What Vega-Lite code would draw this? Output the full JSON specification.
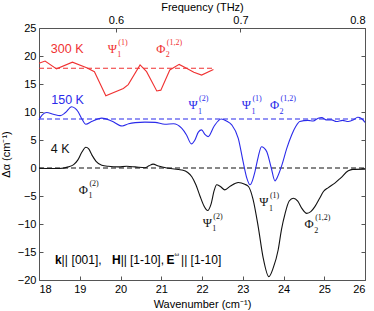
{
  "$schema": "https://vega.github.io/schema/vega-lite/v6.json",
  "width": 326,
  "height": 252,
  "autosize": {"type": "none"},
  "padding": {"left": 39, "top": 28, "right": 9, "bottom": 31},
  "config": {
    "font": "Liberation Sans",
    "view": {"stroke": "#555", "strokeWidth": 1},
    "axis": {"grid": false, "domain": false, "labelFont": "Liberation Sans", "labelFontSize": 11, "labelColor": "#000", "titleFont": "Liberation Sans", "titleFontSize": 11, "titleFontWeight": "normal", "titleColor": "#000", "tickColor": "#555", "tickSize": -4, "labelPadding": 7}
  },
  "datasets": {
    "curves": [
      {"series": "300 K", "x": 18.0, "y": 18.7}, {"series": "300 K", "x": 18.15, "y": 19.1}, {"series": "300 K", "x": 18.43, "y": 17.7}, {"series": "300 K", "x": 18.82, "y": 18.9}, {"series": "300 K", "x": 19.17, "y": 17.9}, {"series": "300 K", "x": 19.36, "y": 17.2}, {"series": "300 K", "x": 19.64, "y": 12.9}, {"series": "300 K", "x": 20.07, "y": 14.2}, {"series": "300 K", "x": 20.19, "y": 14.9}, {"series": "300 K", "x": 20.48, "y": 18.4}, {"series": "300 K", "x": 20.64, "y": 17.2}, {"series": "300 K", "x": 20.89, "y": 13.75}, {"series": "300 K", "x": 20.99, "y": 13.9}, {"series": "300 K", "x": 21.21, "y": 17.5}, {"series": "300 K", "x": 21.44, "y": 18.5}, {"series": "300 K", "x": 21.62, "y": 17.8}, {"series": "300 K", "x": 21.8, "y": 17.1}, {"series": "300 K", "x": 21.99, "y": 16.6}, {"series": "300 K", "x": 22.28, "y": 17.6},
      {"series": "150 K", "x": 18.0, "y": 8.6}, {"series": "150 K", "x": 18.08, "y": 9.5}, {"series": "150 K", "x": 18.19, "y": 9.9}, {"series": "150 K", "x": 18.35, "y": 9.6}, {"series": "150 K", "x": 18.52, "y": 9.35}, {"series": "150 K", "x": 18.65, "y": 9.9}, {"series": "150 K", "x": 18.8, "y": 10.95}, {"series": "150 K", "x": 18.88, "y": 10.7}, {"series": "150 K", "x": 18.96, "y": 10.05}, {"series": "150 K", "x": 19.05, "y": 8.8}, {"series": "150 K", "x": 19.15, "y": 7.8}, {"series": "150 K", "x": 19.29, "y": 8.3}, {"series": "150 K", "x": 19.54, "y": 8.9}, {"series": "150 K", "x": 19.78, "y": 8.4}, {"series": "150 K", "x": 20.04, "y": 7.5}, {"series": "150 K", "x": 20.2, "y": 7.9}, {"series": "150 K", "x": 20.36, "y": 8.1}, {"series": "150 K", "x": 20.6, "y": 8.2}, {"series": "150 K", "x": 20.85, "y": 8.15}, {"series": "150 K", "x": 21.09, "y": 7.8}, {"series": "150 K", "x": 21.3, "y": 7.9}, {"series": "150 K", "x": 21.5, "y": 7.1}, {"series": "150 K", "x": 21.62, "y": 5.9}, {"series": "150 K", "x": 21.74, "y": 4.3}, {"series": "150 K", "x": 21.82, "y": 4.9}, {"series": "150 K", "x": 21.91, "y": 6.4}, {"series": "150 K", "x": 21.99, "y": 6.8}, {"series": "150 K", "x": 22.07, "y": 6.0}, {"series": "150 K", "x": 22.15, "y": 5.6}, {"series": "150 K", "x": 22.3, "y": 7.5}, {"series": "150 K", "x": 22.47, "y": 8.75}, {"series": "150 K", "x": 22.6, "y": 8.4}, {"series": "150 K", "x": 22.73, "y": 7.7}, {"series": "150 K", "x": 22.89, "y": 5.3}, {"series": "150 K", "x": 23.01, "y": 1.1}, {"series": "150 K", "x": 23.1, "y": -1.8}, {"series": "150 K", "x": 23.18, "y": -3.0}, {"series": "150 K", "x": 23.24, "y": -2.2}, {"series": "150 K", "x": 23.3, "y": -0.65}, {"series": "150 K", "x": 23.38, "y": 2.0}, {"series": "150 K", "x": 23.46, "y": 3.8}, {"series": "150 K", "x": 23.52, "y": 3.6}, {"series": "150 K", "x": 23.59, "y": 2.9}, {"series": "150 K", "x": 23.7, "y": 0.0}, {"series": "150 K", "x": 23.79, "y": -2.3}, {"series": "150 K", "x": 23.87, "y": -1.3}, {"series": "150 K", "x": 23.96, "y": 0.5}, {"series": "150 K", "x": 24.08, "y": 3.5}, {"series": "150 K", "x": 24.2, "y": 5.9}, {"series": "150 K", "x": 24.3, "y": 7.4}, {"series": "150 K", "x": 24.4, "y": 8.3}, {"series": "150 K", "x": 24.6, "y": 8.5}, {"series": "150 K", "x": 24.73, "y": 8.4}, {"series": "150 K", "x": 24.85, "y": 8.9}, {"series": "150 K", "x": 24.94, "y": 9.0}, {"series": "150 K", "x": 25.05, "y": 8.6}, {"series": "150 K", "x": 25.18, "y": 8.6}, {"series": "150 K", "x": 25.3, "y": 8.3}, {"series": "150 K", "x": 25.45, "y": 8.5}, {"series": "150 K", "x": 25.59, "y": 8.3}, {"series": "150 K", "x": 25.72, "y": 8.6}, {"series": "150 K", "x": 25.82, "y": 9.05}, {"series": "150 K", "x": 25.92, "y": 8.8}, {"series": "150 K", "x": 26.0, "y": 8.15},
      {"series": "4 K", "x": 18.0, "y": -0.05}, {"series": "4 K", "x": 18.3, "y": -0.1}, {"series": "4 K", "x": 18.5, "y": -0.1}, {"series": "4 K", "x": 18.72, "y": 0.2}, {"series": "4 K", "x": 18.85, "y": 0.6}, {"series": "4 K", "x": 18.95, "y": 1.4}, {"series": "4 K", "x": 19.05, "y": 2.8}, {"series": "4 K", "x": 19.15, "y": 3.7}, {"series": "4 K", "x": 19.22, "y": 3.4}, {"series": "4 K", "x": 19.3, "y": 2.3}, {"series": "4 K", "x": 19.4, "y": 1.2}, {"series": "4 K", "x": 19.54, "y": 0.5}, {"series": "4 K", "x": 19.7, "y": 0.3}, {"series": "4 K", "x": 19.95, "y": 0.2}, {"series": "4 K", "x": 20.15, "y": 0.3}, {"series": "4 K", "x": 20.36, "y": 0.2}, {"series": "4 K", "x": 20.6, "y": 0.05}, {"series": "4 K", "x": 20.7, "y": 0.4}, {"series": "4 K", "x": 20.8, "y": 0.7}, {"series": "4 K", "x": 20.93, "y": 0.35}, {"series": "4 K", "x": 21.17, "y": -0.05}, {"series": "4 K", "x": 21.5, "y": -0.35}, {"series": "4 K", "x": 21.65, "y": -0.8}, {"series": "4 K", "x": 21.75, "y": -1.55}, {"series": "4 K", "x": 21.85, "y": -3.0}, {"series": "4 K", "x": 21.95, "y": -5.0}, {"series": "4 K", "x": 22.05, "y": -6.8}, {"series": "4 K", "x": 22.14, "y": -7.6}, {"series": "4 K", "x": 22.22, "y": -6.5}, {"series": "4 K", "x": 22.3, "y": -4.0}, {"series": "4 K", "x": 22.36, "y": -3.0}, {"series": "4 K", "x": 22.45, "y": -3.3}, {"series": "4 K", "x": 22.56, "y": -3.9}, {"series": "4 K", "x": 22.7, "y": -3.2}, {"series": "4 K", "x": 22.89, "y": -2.6}, {"series": "4 K", "x": 23.05, "y": -2.9}, {"series": "4 K", "x": 23.14, "y": -3.3}, {"series": "4 K", "x": 23.25, "y": -5.5}, {"series": "4 K", "x": 23.38, "y": -10.5}, {"series": "4 K", "x": 23.5, "y": -16.0}, {"series": "4 K", "x": 23.64, "y": -19.4}, {"series": "4 K", "x": 23.75, "y": -17.8}, {"series": "4 K", "x": 23.87, "y": -14.6}, {"series": "4 K", "x": 23.95, "y": -11.0}, {"series": "4 K", "x": 24.04, "y": -8.1}, {"series": "4 K", "x": 24.14, "y": -5.9}, {"series": "4 K", "x": 24.24, "y": -5.4}, {"series": "4 K", "x": 24.35, "y": -5.9}, {"series": "4 K", "x": 24.45, "y": -7.2}, {"series": "4 K", "x": 24.57, "y": -8.1}, {"series": "4 K", "x": 24.67, "y": -7.8}, {"series": "4 K", "x": 24.77, "y": -6.9}, {"series": "4 K", "x": 24.88, "y": -5.5}, {"series": "4 K", "x": 24.98, "y": -4.2}, {"series": "4 K", "x": 25.1, "y": -3.5}, {"series": "4 K", "x": 25.26, "y": -2.7}, {"series": "4 K", "x": 25.4, "y": -1.8}, {"series": "4 K", "x": 25.59, "y": -0.5}, {"series": "4 K", "x": 25.7, "y": -0.25}, {"series": "4 K", "x": 26.0, "y": -0.2}
    ],
    "baselines": [
      {"series": "300 K", "x1": 18.0, "x2": 22.28, "y": 17.8},
      {"series": "150 K", "x1": 18.0, "x2": 26.0, "y": 8.75},
      {"series": "4 K", "x1": 18.0, "x2": 26.0, "y": 0}
    ],
    "names": [
      {"series": "300 K", "x": 18.29, "y": 21.25, "text": "300 K"},
      {"series": "150 K", "x": 18.3, "y": 12.14, "text": "150 K"},
      {"series": "4 K", "x": 18.29, "y": 3.48, "text": "4 K"}
    ],
    "labels": [
      {"series": "300 K", "x": 19.8, "y": 21.3, "base": "Ψ", "sub": "1", "sup": "(1)"},
      {"series": "300 K", "x": 20.99, "y": 21.3, "base": "Φ", "sub": "2", "sup": "(1,2)"},
      {"series": "150 K", "x": 21.78, "y": 11.2, "base": "Ψ", "sub": "1", "sup": "(2)"},
      {"series": "150 K", "x": 23.09, "y": 11.2, "base": "Ψ", "sub": "1", "sup": "(1)"},
      {"series": "150 K", "x": 23.78, "y": 11.2, "base": "Φ", "sub": "2", "sup": "(1,2)"},
      {"series": "4 K", "x": 19.09, "y": -3.9, "base": "Φ", "sub": "1", "sup": "(2)"},
      {"series": "4 K", "x": 22.13, "y": -9.8, "base": "Ψ", "sub": "1", "sup": "(2)"},
      {"series": "4 K", "x": 23.52, "y": -6.1, "base": "Ψ", "sub": "1", "sup": "(1)"},
      {"series": "4 K", "x": 24.63, "y": -10.0, "base": "Φ", "sub": "2", "sup": "(1,2)"}
    ],
    "caption": [
      {"x": 18.393, "y": -16.43, "text": "k", "bold": true},
      {"x": 18.555, "y": -16.43, "text": "||", "bold": false},
      {"x": 18.8, "y": -16.43, "text": "[001],", "bold": false},
      {"x": 19.79, "y": -16.43, "text": "H", "bold": true},
      {"x": 20.005, "y": -16.43, "text": "||", "bold": false},
      {"x": 20.233, "y": -16.43, "text": "[1-10],", "bold": false},
      {"x": 21.13, "y": -16.43, "text": "E", "bold": true},
      {"x": 21.485, "y": -16.43, "text": "||", "bold": false},
      {"x": 21.72, "y": -16.43, "text": "[1-10]", "bold": false}
    ],
    "omega": [
      {"x": 21.325, "y": -15.4, "text": "ω"}
    ],
    "freq": [{"f": 0.6}, {"f": 0.7}, {"f": 0.8}]
  },
  "resolve": {"scale": {"x": "independent"}, "axis": {"x": "independent", "y": "independent"}},
  "layer": [
    {
      "data": {"name": "baselines"},
      "mark": {"type": "rule", "strokeDash": [5, 3], "strokeWidth": 1.1},
      "encoding": {
        "x": {"field": "x1", "type": "quantitative", "scale": {"domain": [18, 26]}, "axis": null},
        "x2": {"field": "x2"},
        "y": {"field": "y", "type": "quantitative", "scale": {"domain": [-20, 25], "nice": false, "zero": false}, "axis": {"orient": "right", "values": [-20, -15, -10, -5, 0, 5, 10, 15, 20, 25], "labels": false, "title": null}},
        "color": {"field": "series", "type": "nominal", "scale": {"domain": ["300 K", "150 K", "4 K"], "range": ["#f03232", "#2b2bea", "#111111"]}, "legend": null}
      }
    },
    {
      "data": {"name": "curves"},
      "mark": {"type": "line", "strokeWidth": 1.1, "interpolate": "monotone"},
      "transform": [{"filter": "datum.series != '300 K'"}],
      "encoding": {
        "x": {"field": "x", "type": "quantitative", "scale": {"domain": [18, 26]}, "axis": {"orient": "bottom", "values": [18, 19, 20, 21, 22, 23, 24, 25, 26], "title": "Wavenumber (cm⁻¹)", "titlePadding": 4}},
        "y": {"field": "y", "type": "quantitative", "scale": {"domain": [-20, 25], "nice": false, "zero": false}, "axis": {"orient": "left", "values": [-20, -15, -10, -5, 0, 5, 10, 15, 20, 25], "title": "Δα (cm⁻¹)", "titlePadding": 6}},
        "color": {"field": "series", "type": "nominal", "legend": null},
        "detail": {"field": "series"}
      }
    },
    {
      "data": {"name": "curves"},
      "mark": {"type": "line", "strokeWidth": 1.1, "interpolate": "linear"},
      "transform": [{"filter": "datum.series == '300 K'"}],
      "encoding": {
        "x": {"field": "x", "type": "quantitative", "scale": {"domain": [18, 26]}, "axis": null},
        "y": {"field": "y", "type": "quantitative", "scale": {"domain": [-20, 25], "nice": false, "zero": false}, "axis": null},
        "color": {"field": "series", "type": "nominal", "legend": null}
      }
    },
    {
      "data": {"name": "names"},
      "mark": {"type": "text", "align": "left", "baseline": "middle", "fontSize": 12.5, "font": "Liberation Sans"},
      "encoding": {
        "x": {"field": "x", "type": "quantitative", "scale": {"domain": [18, 26]}, "axis": null},
        "y": {"field": "y", "type": "quantitative", "scale": {"domain": [-20, 25], "nice": false, "zero": false}, "axis": null},
        "text": {"field": "text"},
        "color": {"field": "series", "type": "nominal", "legend": null}
      }
    },
    {
      "data": {"name": "labels"},
      "mark": {"type": "text", "align": "center", "baseline": "middle", "fontSize": 12.5, "font": "Liberation Serif"},
      "encoding": {
        "x": {"field": "x", "type": "quantitative", "scale": {"domain": [18, 26]}, "axis": null},
        "y": {"field": "y", "type": "quantitative", "scale": {"domain": [-20, 25], "nice": false, "zero": false}, "axis": null},
        "text": {"field": "base"},
        "color": {"field": "series", "type": "nominal", "legend": null}
      }
    },
    {
      "data": {"name": "labels"},
      "mark": {"type": "text", "align": "left", "baseline": "middle", "fontSize": 8, "font": "Liberation Serif", "dx": 6, "dy": -6},
      "encoding": {
        "x": {"field": "x", "type": "quantitative", "scale": {"domain": [18, 26]}, "axis": null},
        "y": {"field": "y", "type": "quantitative", "scale": {"domain": [-20, 25], "nice": false, "zero": false}, "axis": null},
        "text": {"field": "sup"},
        "color": {"field": "series", "type": "nominal", "legend": null}
      }
    },
    {
      "data": {"name": "labels"},
      "mark": {"type": "text", "align": "left", "baseline": "middle", "fontSize": 8, "font": "Liberation Serif", "dx": 5, "dy": 6.5},
      "encoding": {
        "x": {"field": "x", "type": "quantitative", "scale": {"domain": [18, 26]}, "axis": null},
        "y": {"field": "y", "type": "quantitative", "scale": {"domain": [-20, 25], "nice": false, "zero": false}, "axis": null},
        "text": {"field": "sub"},
        "color": {"field": "series", "type": "nominal", "legend": null}
      }
    },
    {
      "data": {"name": "caption"},
      "transform": [{"filter": "datum.bold"}],
      "mark": {"type": "text", "align": "left", "baseline": "middle", "fontSize": 12, "fontWeight": "bold", "color": "#000"},
      "encoding": {
        "x": {"field": "x", "type": "quantitative", "scale": {"domain": [18, 26]}, "axis": null},
        "y": {"field": "y", "type": "quantitative", "scale": {"domain": [-20, 25], "nice": false, "zero": false}, "axis": null},
        "text": {"field": "text"}
      }
    },
    {
      "data": {"name": "caption"},
      "transform": [{"filter": "!datum.bold"}],
      "mark": {"type": "text", "align": "left", "baseline": "middle", "fontSize": 12, "color": "#000"},
      "encoding": {
        "x": {"field": "x", "type": "quantitative", "scale": {"domain": [18, 26]}, "axis": null},
        "y": {"field": "y", "type": "quantitative", "scale": {"domain": [-20, 25], "nice": false, "zero": false}, "axis": null},
        "text": {"field": "text"}
      }
    },
    {
      "data": {"name": "omega"},
      "mark": {"type": "text", "align": "left", "baseline": "middle", "fontSize": 7, "font": "Liberation Serif", "color": "#000"},
      "encoding": {
        "x": {"field": "x", "type": "quantitative", "scale": {"domain": [18, 26]}, "axis": null},
        "y": {"field": "y", "type": "quantitative", "scale": {"domain": [-20, 25], "nice": false, "zero": false}, "axis": null},
        "text": {"field": "text"}
      }
    },
    {
      "data": {"name": "freq"},
      "mark": {"type": "point", "opacity": 0},
      "encoding": {
        "x": {"field": "f", "type": "quantitative", "scale": {"domain": [0.5382, 0.8], "nice": false, "zero": false}, "axis": {"orient": "top", "values": [0.6, 0.7, 0.8], "format": ".1f", "title": "Frequency (THz)", "titlePadding": 2}}
      }
    }
  ]
}
